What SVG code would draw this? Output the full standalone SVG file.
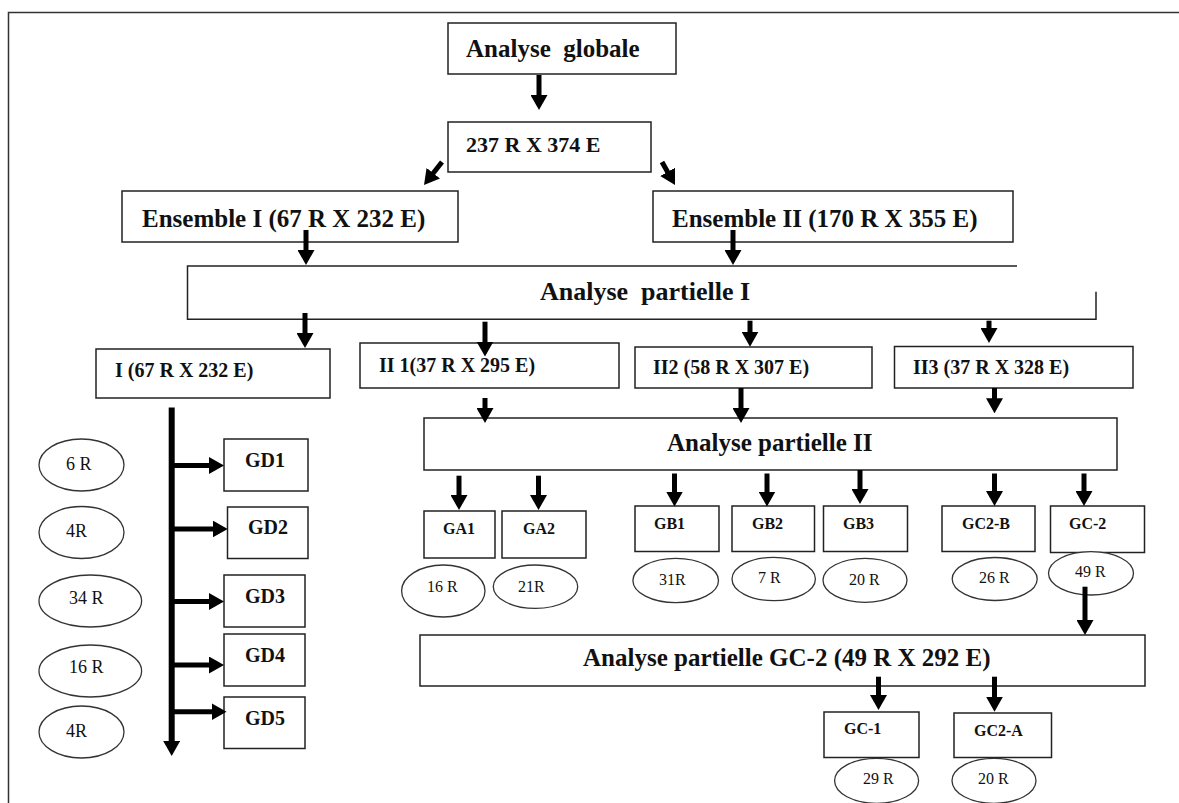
<svg xmlns="http://www.w3.org/2000/svg" width="1179" height="803" viewBox="0 0 1179 803">
<defs>
<style>
.box{fill:#fff;stroke:#222;stroke-width:1.5}
.open{fill:none;stroke:#222;stroke-width:1.5}
.ell{fill:#fff;stroke:#333;stroke-width:1.3}
.t{font-family:"Liberation Serif","Times New Roman",serif;font-weight:bold;fill:#111}
.big{font-size:25px}
.mid{font-size:20px}
.sm{font-size:16px}
.e{font-family:"Liberation Serif","Times New Roman",serif;fill:#111}
.el{font-size:18px}
.es{font-size:16px}
.arr{stroke:#000;stroke-width:5;fill:none;marker-end:url(#ah)}
.trunk{stroke:#000;stroke-width:6;fill:none;marker-end:url(#ah)}
</style>
<marker id="ah" markerUnits="userSpaceOnUse" markerWidth="15" markerHeight="17" refX="4" refY="8.5" orient="auto">
<path d="M0,0 L15,8.5 L0,17 z" fill="#000"/>
</marker>
</defs>
<rect width="1179" height="803" fill="#fff"/>
<path d="M8.5,803 V12.5 H1179" fill="none" stroke="#333" stroke-width="1.5"/>

<g id="n-global"><rect class="box" x="448" y="23" width="228" height="51"/><text class="t big" x="466" y="57" xml:space="preserve">Analyse  globale</text></g>
<g id="n-237"><rect class="box" x="448" y="122" width="203" height="50"/><text class="t" style="font-size:22px" x="466" y="152">237 R X 374 E</text></g>
<g id="n-ens1"><rect class="box" x="122" y="191" width="336" height="51"/><text class="t big" x="142" y="227">Ensemble I (67 R X 232 E)</text></g>
<g id="n-ens2"><rect class="box" x="653" y="191" width="360" height="51"/><text class="t big" x="672" y="227">Ensemble II (170 R X 355 E)</text></g>
<g id="n-ap1"><path class="open" d="M1017,266 H187.5 V319.3 H1096 V291.7"/><text class="t" style="font-size:26px" x="540" y="300" xml:space="preserve">Analyse  partielle I</text></g>
<g id="n-i"><rect class="box" x="96" y="349" width="234" height="49"/><text class="t mid" x="115" y="377">I (67 R X 232 E)</text></g>
<g id="n-ii1"><rect class="box" x="360" y="343" width="259" height="45"/><text class="t mid" x="379" y="372">II 1(37 R X 295 E)</text></g>
<g id="n-ii2"><rect class="box" x="635" y="347" width="237" height="41"/><text class="t mid" x="653" y="374">II2 (58 R X 307 E)</text></g>
<g id="n-ii3"><rect class="box" x="894.5" y="346.5" width="238.5" height="41.5"/><text class="t mid" x="913" y="374">II3 (37 R X 328 E)</text></g>
<g id="n-ap2"><rect class="box" x="424" y="418" width="693" height="52"/><text class="t big" x="667" y="451">Analyse partielle II</text></g>

<g id="n-ga1"><rect class="box" x="424" y="511" width="71" height="47"/><text class="t sm" x="443" y="534">GA1</text></g>
<g id="n-ga2"><rect class="box" x="502" y="511" width="84" height="47"/><text class="t sm" x="523" y="534">GA2</text></g>
<g id="n-gb1"><rect class="box" x="635" y="506" width="84" height="45.5"/><text class="t sm" x="654" y="529">GB1</text></g>
<g id="n-gb2"><rect class="box" x="732" y="506" width="82.5" height="45.5"/><text class="t sm" x="752" y="529">GB2</text></g>
<g id="n-gb3"><rect class="box" x="823.5" y="506" width="84" height="45.5"/><text class="t sm" x="843" y="529">GB3</text></g>
<g id="n-gc2b"><rect class="box" x="942" y="506" width="93" height="45.5"/><text class="t sm" x="962" y="529">GC2-B</text></g>
<g id="n-gc2"><rect class="box" x="1050.5" y="506" width="94" height="46.5"/><text class="t sm" x="1069" y="529">GC-2</text></g>

<g id="n-apgc2"><rect class="box" x="420" y="635" width="725" height="51"/><text class="t big" x="583" y="666">Analyse partielle GC-2 (49 R X 292 E)</text></g>
<g id="n-gc1"><rect class="box" x="824" y="712" width="95" height="45.5"/><text class="t sm" x="844" y="734">GC-1</text></g>
<g id="n-gc2a"><rect class="box" x="954" y="713" width="97.5" height="44.5"/><text class="t sm" x="974" y="736">GC2-A</text></g>

<g id="n-gd1"><rect class="box" x="224" y="439" width="84" height="52"/><text class="t mid" x="245" y="467">GD1</text></g>
<g id="n-gd2"><rect class="box" x="227.5" y="507" width="80.5" height="51.5"/><text class="t mid" x="248" y="534">GD2</text></g>
<g id="n-gd3"><rect class="box" x="224" y="575" width="81" height="52"/><text class="t mid" x="245" y="603">GD3</text></g>
<g id="n-gd4"><rect class="box" x="224" y="634" width="81" height="52"/><text class="t mid" x="245" y="662">GD4</text></g>
<g id="n-gd5"><rect class="box" x="224" y="697" width="81" height="51.5"/><text class="t mid" x="245" y="725">GD5</text></g>

<g id="e-gd1"><ellipse class="ell" cx="81.5" cy="465" rx="42.5" ry="26"/><text class="e el" x="66" y="470">6 R</text></g>
<g id="e-gd2"><ellipse class="ell" cx="81.5" cy="532.5" rx="42.5" ry="26"/><text class="e el" x="66" y="537">4R</text></g>
<g id="e-gd3"><ellipse class="ell" cx="90.3" cy="601" rx="51.3" ry="26"/><text class="e el" x="69" y="604">34 R</text></g>
<g id="e-gd4"><ellipse class="ell" cx="90.3" cy="671" rx="51.3" ry="26"/><text class="e el" x="69" y="673">16 R</text></g>
<g id="e-gd5"><ellipse class="ell" cx="81.5" cy="732" rx="42.5" ry="26"/><text class="e el" x="66" y="737">4R</text></g>

<g id="e-ga1"><ellipse class="ell" cx="443.3" cy="591" rx="41.7" ry="26"/><text class="e es" x="427" y="592">16 R</text></g>
<g id="e-ga2"><ellipse class="ell" cx="535.5" cy="586.7" rx="42.2" ry="21.7"/><text class="e es" x="518" y="592">21R</text></g>
<g id="e-gb1"><ellipse class="ell" cx="675.7" cy="580.5" rx="42.8" ry="22.2"/><text class="e es" x="659" y="585">31R</text></g>
<g id="e-gb2"><ellipse class="ell" cx="773.7" cy="579" rx="41.7" ry="21.7"/><text class="e es" x="758" y="583">7 R</text></g>
<g id="e-gb3"><ellipse class="ell" cx="865" cy="580.3" rx="42" ry="22"/><text class="e es" x="849" y="585">20 R</text></g>
<g id="e-gc2b"><ellipse class="ell" cx="994.7" cy="579" rx="42.5" ry="21.5"/><text class="e es" x="979" y="583">26 R</text></g>
<g id="e-gc2"><ellipse class="ell" cx="1091" cy="573.3" rx="42.5" ry="21.7"/><text class="e es" x="1075" y="577">49 R</text></g>
<g id="e-gc1"><ellipse class="ell" cx="876.6" cy="780.8" rx="42" ry="22.5"/><text class="e es" x="863" y="784">29 R</text></g>
<g id="e-gc2a"><ellipse class="ell" cx="994" cy="780.8" rx="42" ry="22.5"/><text class="e es" x="978" y="784">20 R</text></g>

<g id="connectors">
<line class="arr" x1="539" y1="75" x2="539" y2="99"/>
<line class="arr" x1="442" y1="162" x2="430.8" y2="176.3"/>
<line class="arr" x1="662" y1="162" x2="669.6" y2="175.4"/>
<line class="arr" x1="306" y1="230" x2="306" y2="254"/>
<line class="arr" x1="733" y1="230" x2="733" y2="254"/>
<line class="arr" x1="305" y1="313" x2="305" y2="337"/>
<line class="arr" x1="485" y1="321.7" x2="485" y2="345.5"/>
<line class="arr" x1="750" y1="320.7" x2="750" y2="335.7"/>
<line class="arr" x1="989" y1="320.7" x2="989" y2="332"/>
<line class="arr" x1="485" y1="398" x2="485" y2="412"/>
<line class="arr" x1="741" y1="388" x2="741" y2="412"/>
<line class="arr" x1="994.5" y1="388" x2="994.5" y2="402.3"/>
<line class="arr" x1="459" y1="475.7" x2="459" y2="499"/>
<line class="arr" x1="538.5" y1="475.7" x2="538.5" y2="499"/>
<line class="arr" x1="674.5" y1="473.5" x2="674.5" y2="495.5"/>
<line class="arr" x1="767" y1="473.5" x2="767" y2="495.5"/>
<line class="arr" x1="860" y1="470" x2="860" y2="493"/>
<line class="arr" x1="994.5" y1="473.5" x2="994.5" y2="495"/>
<line class="arr" x1="1084" y1="473.5" x2="1084" y2="495"/>
<line class="arr" x1="1085" y1="586.7" x2="1085" y2="624"/>
<line class="arr" x1="878.5" y1="676.7" x2="878.5" y2="699"/>
<line class="arr" x1="994.5" y1="676.7" x2="994.5" y2="700.7"/>
<line class="trunk" x1="171.7" y1="407.5" x2="171.7" y2="745"/>
<line class="arr" x1="174" y1="465.5" x2="213" y2="465.5"/>
<line class="arr" x1="174" y1="529" x2="216.7" y2="529"/>
<line class="arr" x1="174" y1="601.5" x2="213" y2="601.5"/>
<line class="arr" x1="174" y1="665" x2="213" y2="665"/>
<line class="arr" x1="174" y1="711.7" x2="215.5" y2="711.7"/>
</g>
</svg>
